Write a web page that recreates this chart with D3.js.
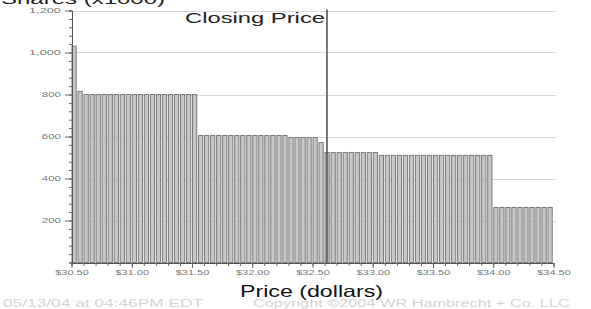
<!DOCTYPE html>
<html>
<head>
<meta charset="utf-8">
<script src="https://cdn.jsdelivr.net/npm/d3@7"></script>
<style>
  body { margin: 0; background: #fff; }
  svg { display: block; font-family: "Liberation Sans", Arial, sans-serif; }
</style>
</head>
<body>
<div id="chart"></div>
<script>
// price levels (bar start, $0.05 steps) and volume in thousands of shares
var prices = d3.range(80).map(function (i) { return +(30.5 + i * 0.05).toFixed(2); });
var volumes = [
  1030, 815,
  800, 800, 800, 800, 800, 800, 800, 800, 800, 800,
  800, 800, 800, 800, 800, 800, 800, 800, 800,
  605, 605, 605, 605, 605, 605, 605, 605, 605, 605,
  605, 605, 605, 605, 605,
  595, 595, 595, 595, 595,
  571,
  524, 524, 524, 524, 524, 524, 524, 524, 524,
  510, 510, 510, 510, 510, 510, 510, 510, 510, 510,
  510, 510, 510, 510, 510, 510, 510, 510, 510,
  262, 262, 262, 262, 262, 262, 262, 262, 262, 262
];
var yTicks = [200, 400, 600, 800, 1000, 1200];
var xTicks = [30.5, 31, 31.5, 32, 32.5, 33, 33.5, 34, 34.5];
var closingPrice = 32.62;

var W = 591, H = 309;
var svg = d3.select("#chart").append("svg").attr("width", W).attr("height", H);

var x = d3.scaleLinear().domain([30.5, 34.5]).range([71.5, 553.5]);
var y = d3.scaleLinear().domain([0, 1200]).range([262.5, 10.5]);

// text in the original is stretched sideways, so fit widths explicitly
function stretch(sel, perChar) {
  sel.each(function () {
    var t = d3.select(this);
    t.attr("textLength", t.text().length * perChar)
     .attr("lengthAdjust", "spacingAndGlyphs");
  });
}

// gridlines
svg.append("g")
  .selectAll("line")
  .data(yTicks)
  .join("line")
  .attr("x1", 72).attr("x2", 556)
  .attr("y1", function (d) { return Math.round(y(d)) + 0.5; })
  .attr("y2", function (d) { return Math.round(y(d)) + 0.5; })
  .attr("stroke", "#d8d8d8")
  .attr("stroke-width", 1);

// bars
var bw = x(30.535) - x(30.5);
svg.append("g")
  .selectAll("rect")
  .data(prices)
  .join("rect")
  .attr("x", function (d) { return x(d) + 0.5; })
  .attr("y", function (d, i) { return y(volumes[i]); })
  .attr("width", bw)
  .attr("height", function (d, i) { return y(0) - y(volumes[i]); })
  .attr("fill", "#c8c8c8")
  .attr("stroke", "#7a7a7a")
  .attr("stroke-width", 1);

// y axis
var yAxis = d3.axisLeft(y)
  .tickValues(d3.range(0, 1201, 40))
  .tickSize(3)
  .tickFormat("");
var gy = svg.append("g").attr("transform", "translate(72,0)").call(yAxis);
gy.select(".domain").attr("stroke", "#555");
gy.selectAll(".tick line").attr("stroke", "#666");

var gy2 = svg.append("g").attr("transform", "translate(72,0)")
  .call(d3.axisLeft(y).tickValues(yTicks).tickSize(7).tickPadding(4).tickFormat(d3.format(",")));
gy2.select(".domain").remove();
gy2.selectAll(".tick line").attr("stroke", "#666");
gy2.selectAll(".tick text")
  .attr("font-size", 7.5)
  .attr("fill", "#777")
  .attr("font-family", "'Liberation Sans', Arial, sans-serif")
  .call(stretch, 6.4);

// x axis
var gx = svg.append("g").attr("transform", "translate(0,263)")
  .call(d3.axisBottom(x).tickValues(d3.range(30.5, 34.55, 0.1)).tickSize(3).tickFormat(""));
gx.select(".domain").attr("stroke", "#555");
gx.selectAll(".tick line").attr("stroke", "#666");

var gx2 = svg.append("g").attr("transform", "translate(0,263)")
  .call(d3.axisBottom(x).tickValues(xTicks).tickSize(5)
    .tickFormat(function (d) { return "$" + d3.format(".2f")(d); }));
gx2.select(".domain").remove();
gx2.selectAll(".tick line").attr("stroke", "#666");
gx2.selectAll(".tick text")
  .attr("font-size", 7.5)
  .attr("fill", "#777")
  .attr("dy", "0.55em")
  .attr("font-family", "'Liberation Sans', Arial, sans-serif")
  .call(stretch, 5.6);

// closing price marker
svg.append("line")
  .attr("x1", x(closingPrice)).attr("x2", x(closingPrice))
  .attr("y1", y(1200) - 1).attr("y2", y(0))
  .attr("stroke", "#555")
  .attr("stroke-width", 1.6);

svg.append("text")
  .attr("x", 185)
  .attr("y", 23)
  .attr("font-size", 14.5)
  .attr("fill", "#222")
  .text("Closing Price")
  .call(stretch, 140 / 13);

// axis titles
svg.append("text")
  .attr("x", 1).attr("y", 4)
  .attr("font-size", 14)
  .attr("fill", "#222")
  .text("Shares (x1000)")
  .call(stretch, 164 / 14);

svg.append("text")
  .attr("x", 240).attr("y", 297)
  .attr("font-size", 16.5)
  .attr("fill", "#111")
  .text("Price (dollars)")
  .call(stretch, 143 / 15);

// footer
svg.append("text")
  .attr("x", 3).attr("y", 307)
  .attr("font-size", 10)
  .attr("fill", "#d4d4d4")
  .text("05/13/04 at 04:46PM EDT")
  .call(stretch, 200 / 23);

svg.append("text")
  .attr("x", 253).attr("y", 307)
  .attr("font-size", 10)
  .attr("fill", "#d4d4d4")
  .text("Copyright \u00A92004 WR Hambrecht + Co. LLC")
  .call(stretch, 325 / 39);
</script>
</body>
</html>
